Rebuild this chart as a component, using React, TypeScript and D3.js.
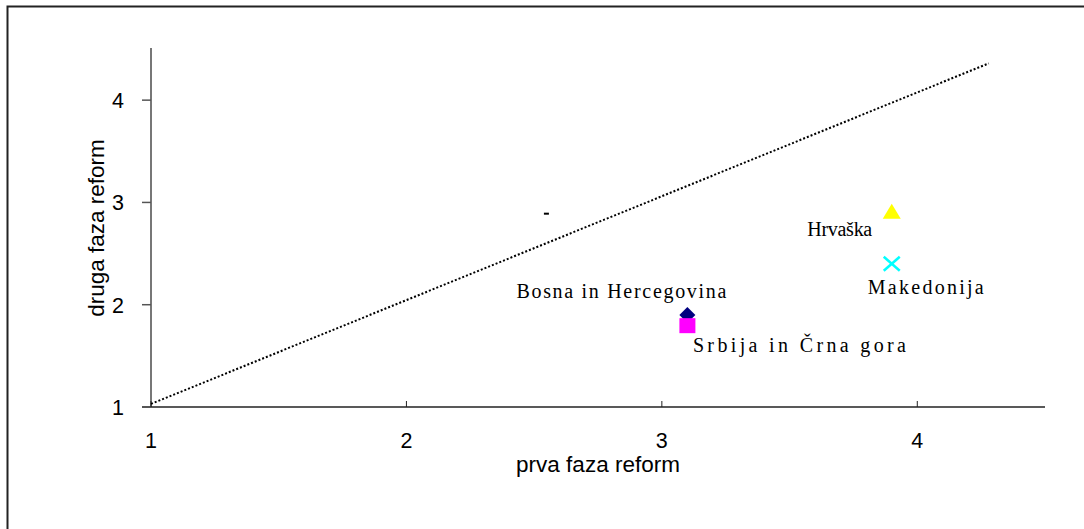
import React from "react";
import * as d3 from "d3";

const countries = ["Bosna in Hercegovina", "Srbija in Črna gora", "Hrvaška", "Makedonija"];
const firstPhase = [3.1, 3.1, 3.9, 3.9];
const secondPhase = [1.9, 1.8, 2.9, 2.4];
const markerColors = ["#000080", "#FF00FF", "#FFFF00", "#00FFFF"];
const markerShapes = ["diamond", "square", "triangle", "cross"];
const labelOffsets = [[-66, -17], [112, 27], [-52, 23], [34, 30]];
const labelWidths = [210, 213, 65, 116];
const strayPoint = [2.55, 2.89];
const trendX = [1, 4.28];
const trendY = [1.03, 4.36];
const xTicks = [1, 2, 3, 4];
const yTicks = [1, 2, 3, 4];

export default function App() {
  const W = 1084, H = 529;
  const x = d3.scaleLinear().domain([1, 4.5]).range([151, 1045]);
  const y = d3.scaleLinear().domain([1, 4.5]).range([407, 49]);
  const line = d3.line<number>().x((_, i) => x(trendX[i])).y((_, i) => y(trendY[i]));

  const marker = (shape: string, cx: number, cy: number, color: string, k: number) => {
    if (shape === "diamond") {
      return <path key={k} d={`M${cx},${cy - 8}L${cx + 8},${cy}L${cx},${cy + 8}L${cx - 8},${cy}Z`} fill={color} />;
    }
    if (shape === "square") {
      return <rect key={k} x={cx - 8} y={cy - 7} width={16} height={15} fill={color} />;
    }
    if (shape === "triangle") {
      return <path key={k} d={`M${cx},${cy - 9}L${cx + 9},${cy + 6}L${cx - 9},${cy + 6}Z`} fill={color} />;
    }
    return (
      <g key={k} stroke={color} strokeWidth={2.5}>
        <line x1={cx - 8} y1={cy - 7} x2={cx + 8} y2={cy + 7} />
        <line x1={cx + 8} y1={cy - 7} x2={cx - 8} y2={cy + 7} />
      </g>
    );
  };

  const sans = "Liberation Sans, Arial, sans-serif";
  const serif = "Liberation Serif, Times New Roman, serif";

  return (
    <svg width={W} height={H} style={{ position: "absolute", left: 0, top: 0, display: "block", background: "#fff" }}>
      <rect x={7.5} y={6.5} width={W + 10} height={H + 10} fill="none" stroke="#222" strokeWidth={2} />
      <line x1={151} x2={151} y1={48} y2={407} stroke="#777" strokeWidth={2} />
      <line x1={142} x2={1045} y1={407} y2={407} stroke="#222" strokeWidth={1.5} />
      {yTicks.map((t) => (
        <g key={"y" + t}>
          <line x1={142} x2={151} y1={y(t)} y2={y(t)} stroke="#555" strokeWidth={1.5} />
          <text x={124} y={y(t) + 8} textAnchor="end" fontFamily={sans} fontSize={21.5} fill="#000">{t}</text>
        </g>
      ))}
      {xTicks.map((t) => (
        <g key={"x" + t}>
          <line x1={x(t)} x2={x(t)} y1={401} y2={407} stroke="#222" strokeWidth={1} />
          <text x={x(t)} y={448} textAnchor="middle" fontFamily={sans} fontSize={21.5} fill="#000">{t}</text>
        </g>
      ))}
      <text x={598} y={472} textAnchor="middle" fontFamily={sans} fontSize={22.5} fill="#000">prva faza reform</text>
      <text transform={`translate(104,228) rotate(-90)`} textAnchor="middle" fontFamily={sans} fontSize={22.5} fill="#000">druga faza reform</text>
      <path d={line(trendX) || ""} fill="none" stroke="#000" strokeWidth={2} strokeDasharray="2,2" />
      <rect x={x(strayPoint[0]) - 3} y={y(strayPoint[1]) - 1} width={5} height={2} fill="#000" />
      {countries.map((c, i) => marker(markerShapes[i], x(firstPhase[i]), y(secondPhase[i]), markerColors[i], i))}
      {countries.map((c, i) => {
        const cx = x(firstPhase[i]) + labelOffsets[i][0];
        return (
          <text key={"l" + i} x={cx - labelWidths[i] / 2} y={y(secondPhase[i]) + labelOffsets[i][1]} textLength={labelWidths[i]} lengthAdjust="spacing" fontFamily={serif} fontSize={20} fill="#000">{c}</text>
        );
      })}
    </svg>
  );
}
